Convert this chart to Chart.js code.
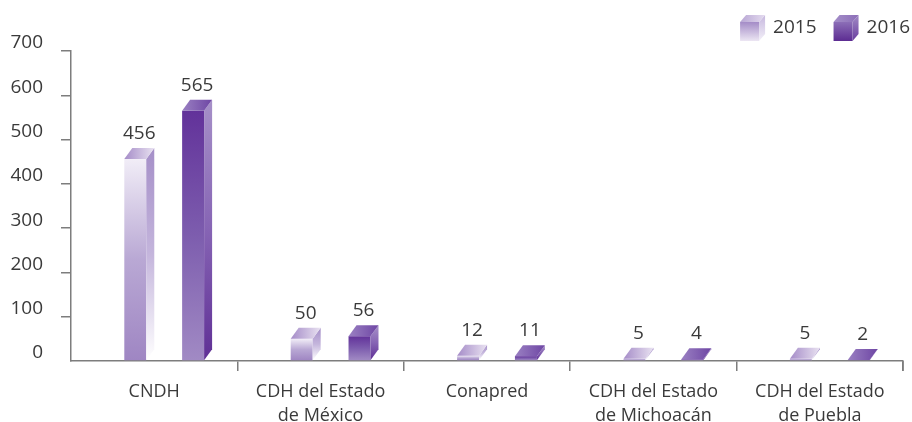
<!DOCTYPE html>
<html>
<head>
<meta charset="utf-8">
<script src="https://cdn.jsdelivr.net/npm/chart.js@4"></script>
<style>
  html, body { margin: 0; background: #fff; }
  #wrap { width: 912px; height: 422px; position: relative; }
</style>
</head>
<body>
<div id="wrap"><canvas id="myChart"></canvas></div>
<script>
const categories = [
    ['CNDH'],
    ['CDH del Estado', 'de México'],
    ['Conapred'],
    ['CDH del Estado', 'de Michoacán'],
    ['CDH del Estado', 'de Puebla'],
];
const years = ['2015', '2016'];
const values2015 = [456, 50, 12, 5, 5];
const values2016 = [565, 56, 11, 4, 2];
const yMin = 0, yMax = 700, yStep = 100;

const textColor = '#3a3a3a';
const axisColor = '#7d7d7d';
const DX = 8, DY = 11, SHIFT = 10;

// colours of the three visible faces, one set per year
const palettes = [
    {front: ['#f1edf7', '#b9a8d4', '#9f86c3'], side: ['#a58fc8', '#c4b5dc', '#ffffff'], top: ['#a58cc8', '#e9e2f1']},
    {front: ['#62329a', '#7d5dae', '#a18ac4'], side: ['#a690c8', '#8664b4', '#5f2f95'], top: ['#9a80c2', '#6e46a4']},
];
const legendPalettes = [
    {front: ['#a48cc7', '#ece6f3'], side: ['#c6b7de', '#f3f0f8'], top: ['#b8a6d4', '#e4dbef']},
    {front: ['#8c6eb7', '#5c2c92'], side: ['#a18ac5', '#6a3e9f'], top: ['#a48ec8', '#8c6eb8']},
];

function grad(ctx, x0, y0, x1, y1, stops) {
    const g = ctx.createLinearGradient(x0, y0, x1, y1);
    stops.forEach((c, i) => g.addColorStop(i / (stops.length - 1), c));
    return g;
}

function drawBox(ctx, x, top, w, base, dx, dy, pal) {
    const h = Math.max(base - top, 1);
    // front
    ctx.fillStyle = grad(ctx, 0, top, 0, top + h, pal.front);
    ctx.fillRect(x, top, w, base - top);
    // side
    ctx.beginPath();
    ctx.moveTo(x + w, top);
    ctx.lineTo(x + w + dx, top - dy);
    ctx.lineTo(x + w + dx, base - dy);
    ctx.lineTo(x + w, base);
    ctx.closePath();
    ctx.fillStyle = grad(ctx, 0, top - dy, 0, Math.max(base, top - dy + 2), pal.side);
    ctx.fill();
    // top
    ctx.beginPath();
    ctx.moveTo(x, top);
    ctx.lineTo(x + dx, top - dy);
    ctx.lineTo(x + w + dx, top - dy);
    ctx.lineTo(x + w, top);
    ctx.closePath();
    ctx.fillStyle = grad(ctx, x, 0, x + w + dx, 0, pal.top);
    ctx.fill();
}

const bars3d = {
    id: 'bars3d',
    afterDatasetsDraw(chart) {
        const ctx = chart.ctx;
        ctx.save();
        chart.data.datasets.forEach((ds, di) => {
            const meta = chart.getDatasetMeta(di);
            meta.data.forEach((el, i) => {
                const w = el.width;
                const x = el.x - w / 2 + SHIFT;
                drawBox(ctx, x, el.y, w, el.base, DX, DY, palettes[di]);
                ctx.fillStyle = textColor;
                ctx.font = '19px "Open Sans"';
                ctx.textAlign = 'center';
                ctx.textBaseline = 'alphabetic';
                ctx.fillText(String(ds.data[i]), x + (w + DX) / 2, el.y - DY - 9);
            });
        });
        // closing tick at the right end of the category axis
        const xs = chart.scales.x;
        ctx.strokeStyle = axisColor;
        ctx.lineWidth = 1.5;
        ctx.beginPath();
        ctx.moveTo(xs.right, xs.top);
        ctx.lineTo(xs.right, xs.top + 10);
        ctx.stroke();
        ctx.restore();
    }
};

const legend3d = {
    id: 'legend3d',
    afterDraw(chart) {
        const ctx = chart.ctx;
        ctx.save();
        ctx.font = '19px "Open Sans"';
        ctx.textBaseline = 'middle';
        ctx.textAlign = 'left';
        let x = chart.width - 2;
        const items = chart.data.datasets.map((ds, i) => ({text: ds.label, i})).reverse();
        items.forEach(it => {
            const tw = ctx.measureText(it.text).width;
            x -= tw;
            ctx.fillStyle = textColor;
            ctx.fillText(it.text, x, 28);
            x -= 8 + 25;
            drawBox(ctx, x, 22, 19, 41, 6, 7, legendPalettes[it.i]);
            x -= 17;
        });
        ctx.restore();
    }
};

const ctx = document.getElementById('myChart');
new Chart(ctx, {
    type: 'bar',
    data: {
        labels: categories,
        datasets: [
            {label: years[0], data: values2015, backgroundColor: 'rgba(0,0,0,0)'},
            {label: years[1], data: values2016, backgroundColor: 'rgba(0,0,0,0)'},
        ]
    },
    options: {
        responsive: true,
        maintainAspectRatio: false,
        animation: false,
        categoryPercentage: 0.695,
        barPercentage: 0.38,
        layout: {padding: {top: 51, right: 9, bottom: 0, left: 0}},
        plugins: {
            legend: {display: false},
            tooltip: {enabled: false}
        },
        scales: {
            x: {
                grid: {
                    offset: true,
                    drawOnChartArea: false,
                    tickLength: 10,
                    lineWidth: 1.5,
                    color: c => c.index === 0 ? 'rgba(0,0,0,0)' : axisColor
                },
                border: {color: axisColor, width: 1.5},
                ticks: {
                    color: textColor,
                    font: {family: 'Open Sans', size: 18, lineHeight: 1.38},
                    padding: 8,
                    maxRotation: 0,
                    autoSkip: false
                },
                afterFit: s => { s.height = 61; }
            },
            y: {
                min: yMin,
                max: yMax,
                grid: {
                    drawOnChartArea: false,
                    tickLength: 10,
                    lineWidth: 1.5,
                    color: c => (c.tick && c.tick.value === 0) ? 'rgba(0,0,0,0)' : axisColor
                },
                border: {color: axisColor, width: 1.5},
                ticks: {
                    stepSize: yStep,
                    labelOffset: -8,
                    padding: 18,
                    color: textColor,
                    font: {family: 'Open Sans', size: 19}
                },
                afterFit: s => { s.width = 71; }
            }
        }
    },
    plugins: [bars3d, legend3d]
});
</script>
</body>
</html>
